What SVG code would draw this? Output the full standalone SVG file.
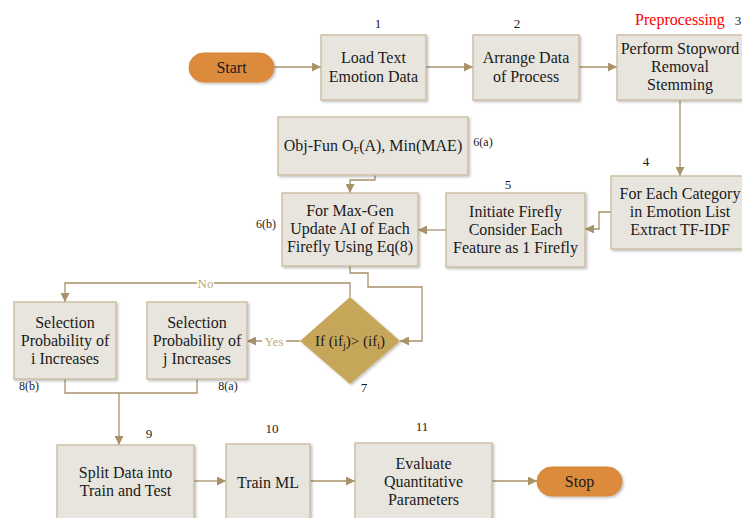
<svg xmlns="http://www.w3.org/2000/svg" width="742" height="518" viewBox="0 0 742 518">
<defs>
<marker id="arr" viewBox="0 0 10 10" refX="10" refY="5" markerWidth="9" markerHeight="9" markerUnits="userSpaceOnUse" orient="auto">
<path d="M0,0 L10,5 L0,10 z" fill="#A8926A"/>
</marker>
<filter id="sh" x="-10%" y="-10%" width="130%" height="130%">
<feDropShadow dx="1.5" dy="1.5" stdDeviation="1.2" flood-color="#000" flood-opacity="0.25"/>
</filter>
<style>
.box{fill:#E8E5DF;stroke:#C9B99B;stroke-width:1.3;filter:url(#sh)}
.pill{fill:#DC8B3C;stroke:#D9883A;stroke-width:1;filter:url(#sh)}
.dia{fill:#C6A75A;filter:url(#sh)}
.t{font-family:"Liberation Serif","Times New Roman",serif;font-size:16px;fill:#1a1a1a;text-anchor:middle}
.n{font-family:"Liberation Serif","Times New Roman",serif;font-size:13px;fill:#1a1a1a;text-anchor:middle}
.lab{font-family:"Liberation Serif","Times New Roman",serif;font-size:13px;fill:#BFA77C;text-anchor:middle}
.red{font-family:"Liberation Serif","Times New Roman",serif;font-size:16px;fill:#FF0000;text-anchor:middle}
.c{fill:none;stroke:#A8926A;stroke-width:1.3}
</style>
</defs>
<rect width="742" height="518" fill="#FFFFFF"/>

<g id="connectors">
<path class="c" d="M274,67 H321" marker-end="url(#arr)"/>
<path class="c" d="M426,67 H473" marker-end="url(#arr)"/>
<path class="c" d="M579,67 H617" marker-end="url(#arr)"/>
<path class="c" d="M680,100 V176" marker-end="url(#arr)"/>
<path class="c" d="M611,212 H599 V229 H585" marker-end="url(#arr)"/>
<path class="c" d="M446,230 H418" marker-end="url(#arr)"/>
<path class="c" d="M375,175 V180 H350 V193" marker-end="url(#arr)"/>
<path class="c" d="M350,266 V273 H368 V287 H422 V341 H400" marker-end="url(#arr)"/>
<path class="c" d="M350,297 V283 H214 M197,283 H65 V302" marker-end="url(#arr)"/>
<text class="lab" x="205.5" y="287.5">No</text>
<path class="c" d="M300,341 H286 M262,341 H247" marker-end="url(#arr)"/>
<text class="lab" x="274" y="345.5">Yes</text>
<path class="c" d="M65,379 V393 H197 V379 M119,393 V445" marker-end="url(#arr)"/>
<path class="c" d="M194,481 H226" marker-end="url(#arr)"/>
<path class="c" d="M310,481 H355" marker-end="url(#arr)"/>
<path class="c" d="M492,481 H537" marker-end="url(#arr)"/>
</g>

<g id="start">
<rect class="pill" x="189" y="53" width="85" height="29" rx="14.5"/>
<text class="t" x="231.5" y="72.5">Start</text>
</g>

<g id="n1">
<rect class="box" x="321" y="35" width="105" height="65"/>
<text class="t" x="373.5" y="63">Load Text</text>
<text class="t" x="373.5" y="82">Emotion Data</text>
<text class="n" x="378" y="28">1</text>
</g>

<g id="n2">
<rect class="box" x="473" y="35" width="106" height="65"/>
<text class="t" x="526" y="63">Arrange Data</text>
<text class="t" x="526" y="82">of Process</text>
<text class="n" x="517" y="28">2</text>
</g>

<g id="n3">
<rect class="box" x="617" y="35" width="127" height="65"/>
<text class="t" x="680" y="54">Perform Stopword</text>
<text class="t" x="680" y="72">Removal</text>
<text class="t" x="680" y="90">Stemming</text>
<text class="red" x="680" y="25">Preprocessing</text>
<text class="n" x="738" y="25">3</text>
</g>

<g id="n4">
<rect class="box" x="611" y="176" width="138" height="73"/>
<text class="t" x="680" y="199">For Each Category</text>
<text class="t" x="680" y="217">in Emotion List</text>
<text class="t" x="680" y="235">Extract TF-IDF</text>
<text class="n" x="646" y="166">4</text>
</g>

<g id="n5">
<rect class="box" x="446" y="193" width="139" height="74"/>
<text class="t" x="515.5" y="217">Initiate Firefly</text>
<text class="t" x="515.5" y="235">Consider Each</text>
<text class="t" x="515.5" y="253">Feature as 1 Firefly</text>
<text class="n" x="508" y="189">5</text>
</g>

<g id="n6a">
<rect class="box" x="278" y="117" width="190" height="58"/>
<text class="t" x="373" y="150.5">Obj-Fun O<tspan font-size="10" dy="3">F</tspan><tspan dy="-3">(A), Min(MAE)</tspan></text>
<text class="n" x="483" y="146" style="font-size:12px">6(a)</text>
</g>

<g id="n6b">
<rect class="box" x="282" y="193" width="136" height="73"/>
<text class="t" x="350" y="216">For Max-Gen</text>
<text class="t" x="350" y="234">Update AI of Each</text>
<text class="t" x="350" y="252">Firefly Using Eq(8)</text>
<text class="n" x="266" y="228" style="font-size:12px">6(b)</text>
</g>

<g id="n7">
<path class="dia" d="M350,297 L400,341 L350,384 L300,341 Z"/>
<text class="t" x="350" y="346" style="font-size:15px">If (if<tspan font-size="10" dy="3">j</tspan><tspan dy="-3">)&gt; (if</tspan><tspan font-size="10" dy="3">i</tspan><tspan dy="-3">)</tspan></text>
<text class="n" x="364" y="392">7</text>
</g>

<g id="n8a">
<rect class="box" x="147" y="302" width="100" height="77"/>
<text class="t" x="197" y="328">Selection</text>
<text class="t" x="197" y="346">Probability of</text>
<text class="t" x="197" y="364">j Increases</text>
<text class="n" x="228" y="390" style="font-size:12px">8(a)</text>
</g>

<g id="n8b">
<rect class="box" x="14" y="302" width="102" height="77"/>
<text class="t" x="65" y="328">Selection</text>
<text class="t" x="65" y="346">Probability of</text>
<text class="t" x="65" y="364">i Increases</text>
<text class="n" x="29" y="390" style="font-size:12px">8(b)</text>
</g>

<g id="n9">
<rect class="box" x="57" y="445" width="137" height="76"/>
<text class="t" x="125.5" y="478">Split Data into</text>
<text class="t" x="125.5" y="496">Train and Test</text>
<text class="n" x="149" y="438">9</text>
</g>

<g id="n10">
<rect class="box" x="226" y="444" width="84" height="77"/>
<text class="t" x="268" y="488">Train ML</text>
<text class="n" x="272" y="433">10</text>
</g>

<g id="n11">
<rect class="box" x="355" y="443" width="137" height="78"/>
<text class="t" x="423.5" y="469">Evaluate</text>
<text class="t" x="423.5" y="487">Quantitative</text>
<text class="t" x="423.5" y="505">Parameters</text>
<text class="n" x="422" y="431">11</text>
</g>

<g id="stop">
<rect class="pill" x="537" y="467" width="85" height="29" rx="14.5"/>
<text class="t" x="579.5" y="486.5">Stop</text>
</g>
</svg>
